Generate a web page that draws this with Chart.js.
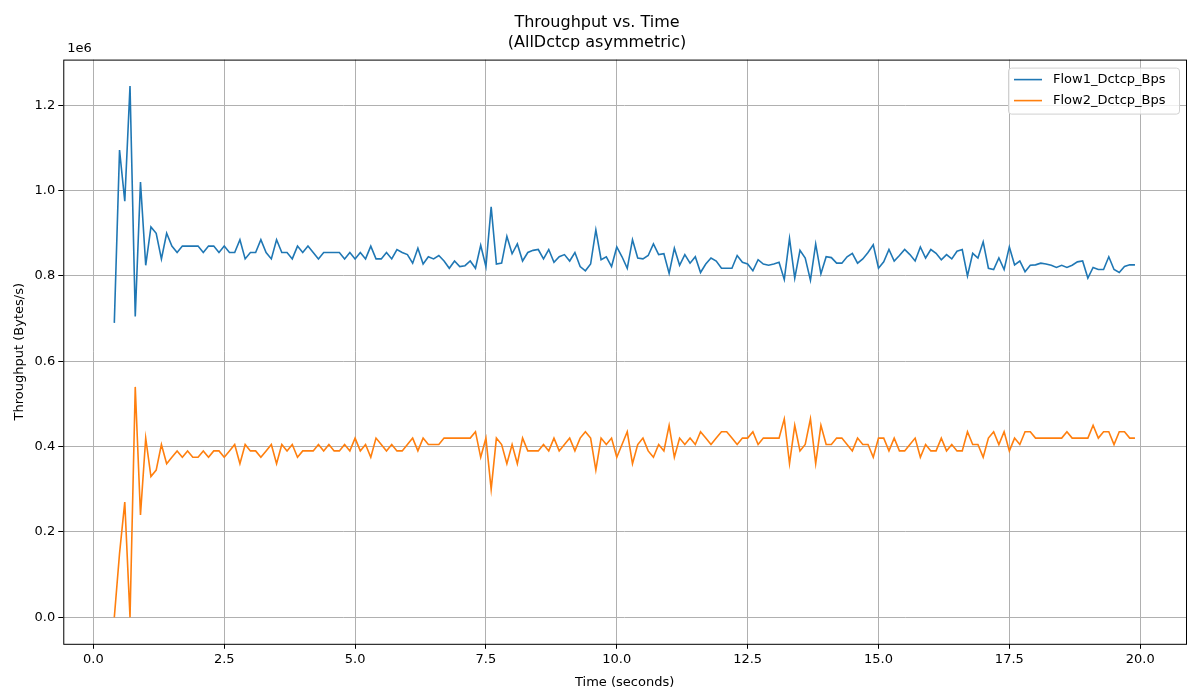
<!DOCTYPE html>
<html>
<head>
<meta charset="utf-8">
<script src="https://cdn.jsdelivr.net/npm/chart.js@4.4.0/dist/chart.umd.min.js"></script>
<style>
  html, body { margin: 0; padding: 0; background: #fff; }
  #wrap { width: 1200px; height: 700px; }
</style>
</head>
<body>
<div id="wrap"><canvas id="chart" width="1200" height="700"></canvas></div>
<script>
// time axis: 0.4 .. 19.9 s, every 0.1 s
const times = [];
for (let i = 4; i <= 199; i++) times.push(i / 10);

// Flow 1 throughput, in thousands of bytes/s
const flow1K = [
  690, 1095, 975, 1245, 705, 1020, 825, 915, 900, 840,
  900, 870, 855, 870, 870, 870, 870, 855, 870, 870,
  855, 870, 855, 855, 885, 840, 855, 855, 885, 855,
  840, 885, 855, 855, 840, 870, 855, 870, 855, 840,
  855, 855, 855, 855, 840, 855, 840, 855, 840, 870,
  840, 840, 855, 840, 862, 855, 850, 830, 865, 828,
  845, 840, 848, 835, 818, 835, 822, 824, 835, 818,
  872, 822, 962, 828, 830, 893, 852, 875, 835, 855,
  860, 862, 840, 862, 832, 845, 850, 835, 855, 822,
  812, 828, 908, 838, 845, 822, 868, 845, 818, 885,
  842, 840, 848, 875, 850, 852, 806, 865, 825, 850,
  830, 845, 808, 828, 842, 835, 818, 818, 818, 848,
  832, 828, 812, 838, 828, 825, 828, 832, 792, 888,
  795, 860, 842, 790, 875, 805, 845, 843, 830, 830,
  845, 853, 830, 840, 855, 873, 818, 833, 862, 835,
  848, 862, 850, 835, 868, 842, 862, 853, 838, 850,
  840, 858, 862, 800, 853, 842, 880, 818, 815, 842,
  815, 868, 826, 835, 810, 825, 826, 830, 828, 825,
  820, 825, 820, 825, 833, 835, 795, 820, 815, 815,
  845, 815, 808, 822, 826, 826
];

// Flow 2 throughput, in thousands of bytes/s
const flow2K = [
  0, 150, 270, 0, 540, 240, 420, 330, 345, 405,
  360, 375, 390, 375, 390, 375, 375, 390, 375, 390,
  390, 375, 390, 405, 360, 405, 390, 390, 375, 390,
  405, 360, 405, 390, 405, 375, 390, 390, 390, 405,
  390, 405, 390, 390, 405, 390, 420, 390, 405, 375,
  420, 405, 390, 405, 390, 390, 405, 420, 390, 420,
  405, 405, 405, 420, 420, 420, 420, 420, 420, 435,
  375, 420, 300, 420, 405, 360, 405, 360, 420, 390,
  390, 390, 405, 390, 420, 390, 405, 420, 390, 420,
  435, 420, 345, 420, 405, 420, 375, 405, 435, 360,
  405, 420, 390, 375, 405, 390, 450, 375, 420, 405,
  420, 405, 435, 420, 405, 420, 435, 435, 420, 405,
  420, 420, 435, 405, 420, 420, 420, 420, 465, 360,
  450, 390, 405, 465, 360, 450, 405, 405, 420, 420,
  405, 390, 420, 405, 405, 375, 420, 420, 390, 420,
  390, 390, 405, 420, 375, 405, 390, 390, 420, 390,
  405, 390, 390, 435, 405, 405, 375, 420, 435, 405,
  435, 390, 420, 405, 435, 435, 420, 420, 420, 420,
  420, 420, 435, 420, 420, 420, 420, 450, 420, 435,
  435, 405, 435, 435, 420, 420
];

const seriesNames = ['Flow1_Dctcp_Bps', 'Flow2_Dctcp_Bps'];
const seriesColors = ['#1f77b4', '#ff7f0e'];
const xTicks = [0, 2.5, 5, 7.5, 10, 12.5, 15, 17.5, 20];
const yTicks = [0, 0.2e6, 0.4e6, 0.6e6, 0.8e6, 1.0e6, 1.2e6];

const toPoints = arr => arr.map((v, i) => ({ x: times[i], y: v * 1000 }));

const font = { family: 'DejaVu Sans', size: 13 };

// matplotlib style frame, "1e6" offset label and boxed legend
const framePlugin = {
  id: 'frame',
  afterDraw(chart) {
    const { ctx, chartArea: a } = chart;
    ctx.save();
    ctx.strokeStyle = '#000';
    ctx.lineWidth = 1;
    ctx.strokeRect(a.left + 0.5, a.top + 0.5, a.right - a.left, a.bottom - a.top);
    ctx.fillStyle = '#000';
    ctx.font = '13px DejaVu Sans';
    ctx.textBaseline = 'bottom';
    ctx.fillText('1e6', a.left + 4, a.top - 4);

    // legend
    const w = 171, h = 46;
    const lx = a.right - w - 7, ly = a.top + 8;
    ctx.fillStyle = 'rgba(255,255,255,0.8)';
    ctx.strokeStyle = '#d0d0d0';
    ctx.beginPath();
    ctx.roundRect(lx + 0.5, ly + 0.5, w, h, 3);
    ctx.fill();
    ctx.stroke();
    ctx.textBaseline = 'middle';
    seriesNames.forEach((name, i) => {
      const yy = ly + 12 + i * 21;
      ctx.strokeStyle = seriesColors[i];
      ctx.lineWidth = 1.6;
      ctx.beginPath();
      ctx.moveTo(lx + 6, yy);
      ctx.lineTo(lx + 34, yy);
      ctx.stroke();
      ctx.fillStyle = '#000';
      ctx.fillText(name, lx + 45, yy);
    });
    ctx.restore();
  }
};

new Chart(document.getElementById('chart'), {
  type: 'line',
  data: {
    datasets: [
      { label: seriesNames[0], data: toPoints(flow1K), borderColor: seriesColors[0], borderWidth: 1.6, pointRadius: 0, tension: 0 },
      { label: seriesNames[1], data: toPoints(flow2K), borderColor: seriesColors[1], borderWidth: 1.6, pointRadius: 0, tension: 0 }
    ]
  },
  options: {
    responsive: false,
    animation: false,
    layout: { padding: { left: 8, right: 14, top: 0, bottom: 6 } },
    plugins: {
      title: {
        display: true,
        text: ['Throughput vs. Time', '(AllDctcp asymmetric)'],
        color: '#000',
        font: { family: 'DejaVu Sans', size: 16, weight: 'normal', lineHeight: 1.3 },
        padding: { top: 12, bottom: 6 }
      },
      legend: { display: false },
      tooltip: { enabled: false }
    },
    scales: {
      x: {
        type: 'linear',
        min: -0.575,
        max: 20.875,
        afterBuildTicks: s => { s.ticks = xTicks.map(v => ({ value: v })); },
        ticks: { color: '#000', font: font, callback: v => v.toFixed(1), maxRotation: 0 },
        grid: { color: '#b0b0b0', lineWidth: 1, drawTicks: true, tickLength: 5, tickColor: '#000' },
        border: { display: false },
        title: { display: true, text: 'Time (seconds)', color: '#000', font: font }
      },
      y: {
        min: -62000,
        max: 1307000,
        afterBuildTicks: s => { s.ticks = yTicks.map(v => ({ value: v })); },
        ticks: { color: '#000', font: font, callback: v => (v / 1e6).toFixed(1) },
        grid: { color: '#b0b0b0', lineWidth: 1, drawTicks: true, tickLength: 5, tickColor: '#000' },
        border: { display: false },
        title: { display: true, text: 'Throughput (Bytes/s)', color: '#000', font: font }
      }
    }
  },
  plugins: [framePlugin]
});
</script>
</body>
</html>
